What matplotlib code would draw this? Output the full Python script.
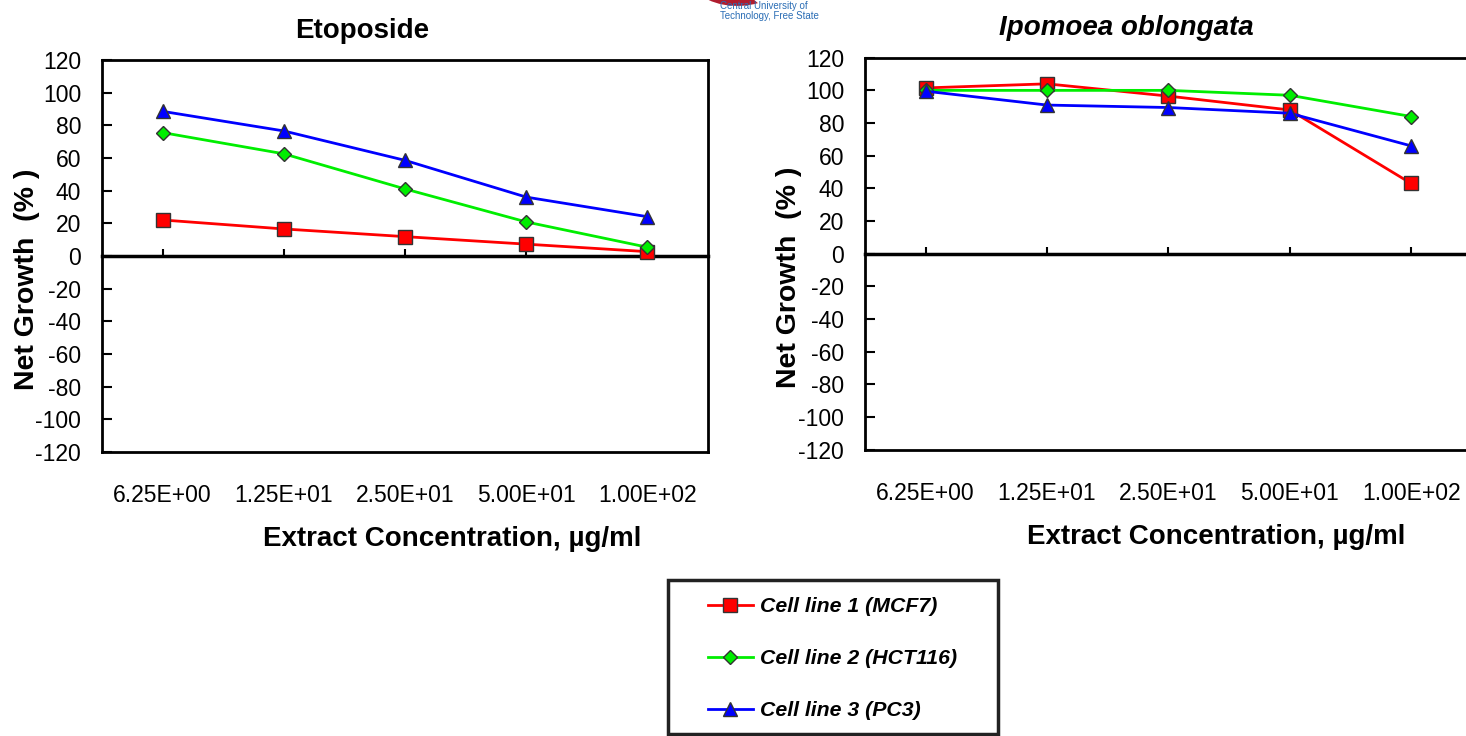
import numpy as np
import matplotlib.pyplot as plt
from matplotlib.patches import Wedge, Rectangle

plt.rcParams['font.family'] = ['Liberation Sans', 'DejaVu Sans']
plt.rcParams['axes.unicode_minus'] = False

conc = ['6.25E+00', '1.25E+01', '2.50E+01', '5.00E+01', '1.00E+02']
labels = ['Cell line 1 (MCF7)', 'Cell line 2 (HCT116)', 'Cell line 3 (PC3)']

# Etoposide
eto_mcf7 = [22, 16.5, 11.8, 7.2, 2.6]
eto_hct116 = [75.5, 62.5, 41, 20.8, 5.3]
eto_pc3 = [88.5, 76.5, 58.5, 36, 24]

# Ipomoea oblongata
ipo_mcf7 = [101.5, 104, 96.5, 88, 43]
ipo_hct116 = [100, 100, 100, 97, 84]
ipo_pc3 = [99.5, 91, 89.5, 86, 66]

colors = ['#ff0000', '#00ee00', '#0000ff']
markers = ['s', 'D', '^']
msizes = [10, 7.5, 10]

fig = plt.figure(figsize=(14.66, 7.36), dpi=100)


def panel(rect, series, title, italic):
    ax = fig.add_axes(rect)
    x = np.arange(len(conc))
    for i, vals in enumerate(series):
        ax.plot(x, vals, color=colors[i], lw=2, marker=markers[i], ms=msizes[i],
                markerfacecolor=colors[i], markeredgecolor='#333333', markeredgewidth=1,
                label=labels[i], zorder=3)
    ax.set_xlim(-0.5, len(conc) - 0.5)
    ax.set_ylim(-120, 120)
    ax.set_yticks(np.arange(-120, 121, 20))
    ax.tick_params(axis='y', labelsize=16.5, length=7, width=1.5, direction='in', pad=15)
    for s in ['top', 'left', 'right']:
        ax.spines[s].set_linewidth(2)
    ax.spines['bottom'].set_position(('data', 0))
    ax.spines['bottom'].set_linewidth(2.5)
    ax.set_xticks(x)
    ax.tick_params(axis='x', labelbottom=False, length=5, width=1.5, direction='in')
    sec = ax.secondary_xaxis('bottom')
    sec.set_xticks(x)
    sec.set_xticklabels(conc)
    sec.tick_params(length=0, labelsize=16.5, pad=23)
    sec.spines['bottom'].set_linewidth(2)
    sec.set_xlabel('Extract Concentration, µg/ml', fontsize=20, fontweight='bold', labelpad=14)
    sec.xaxis.label.set_x(0.578)
    ax.set_ylabel('Net Growth  (% )', fontsize=20.5, fontweight='bold')
    ax.yaxis.set_label_coords(-0.103, 0.44)
    ax.set_title(title, fontsize=20, fontweight='bold',
                 style='italic' if italic else 'normal', pad=16, x=0.43)
    return ax


ax1 = panel([0.0696, 0.386, 0.4134, 0.5326], [eto_mcf7, eto_hct116, eto_pc3], 'Etoposide', False)
ax2 = panel([0.590, 0.389, 0.414, 0.5326], [ipo_mcf7, ipo_hct116, ipo_pc3], 'Ipomoea oblongata', True)

# legend with its own frame
fig.patches.append(Rectangle((668 / 1466, 1 - 734 / 736), 330 / 1466, 154 / 736,
                             transform=fig.transFigure, facecolor='white',
                             edgecolor='#222222', linewidth=2.5, zorder=0))
handles, labs = ax1.get_legend_handles_labels()
leg = fig.legend(handles, labs, loc='upper left', bbox_to_anchor=(708 / 1466, 1 - 597 / 736),
                 prop={'size': 15.3, 'weight': 'bold', 'style': 'italic'},
                 frameon=False, labelspacing=1.56, handlelength=2.1,
                 borderpad=0, borderaxespad=0, handletextpad=0.35)

# partial university logo at the top
fig.patches.append(Wedge((0.503, 1.02), 0.028, 200, 300, width=0.012, transform=fig.transFigure,
                         facecolor='#b01c2e', edgecolor='none'))
fig.patches.append(Wedge((0.503, 1.02), 0.016, 200, 300, width=0.006, transform=fig.transFigure,
                         facecolor='#f3c300', edgecolor='none'))
fig.text(0.491, 0.985, 'Central University of\nTechnology, Free State', fontsize=7,
         color='#2a6db5', va='center', ha='left', linespacing=1.0)

fig.savefig('out.png', dpi=100)
